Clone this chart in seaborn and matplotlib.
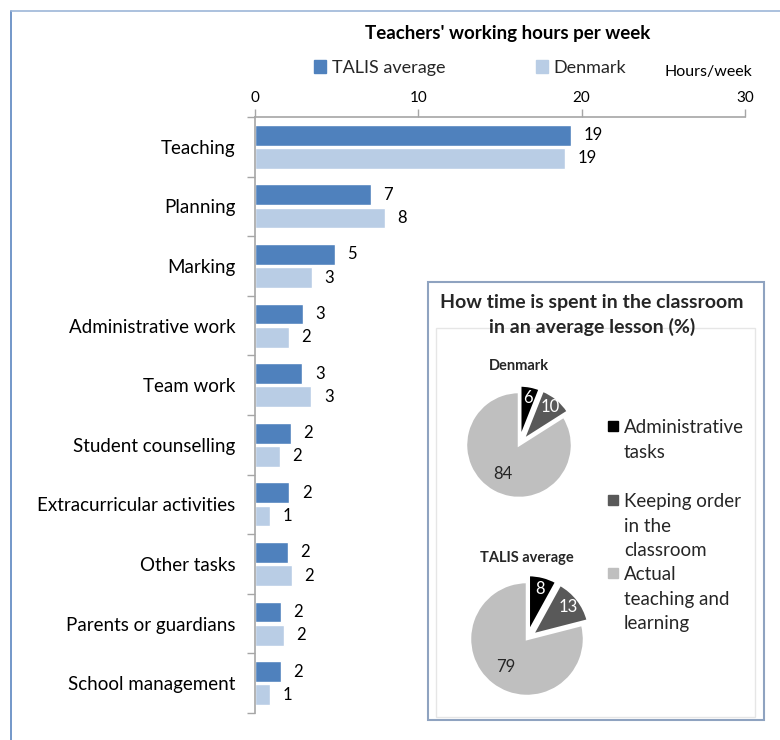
import matplotlib
matplotlib.use("Agg")
import matplotlib.pyplot as plt
import numpy as np
import pandas as pd
import seaborn as sns
from matplotlib.patches import Rectangle
from matplotlib.lines import Line2D

CATEGORIES = [
    "Teaching", "Planning", "Marking", "Administrative work", "Team work",
    "Student counselling", "Extracurricular activities", "Other tasks",
    "Parents or guardians", "School management",
]
TALIS_HOURS = [19.35, 7.08, 4.9, 2.92, 2.9, 2.2, 2.1, 2.0, 1.6, 1.57]
DENMARK_HOURS = [18.98, 7.96, 3.49, 2.06, 3.45, 1.52, 0.92, 2.27, 1.78, 0.93]
SERIES = ["TALIS average", "Denmark"]
BAR_COLORS = ["#4F81BD", "#B9CDE5"]

PIE_LABELS = ["Administrative\ntasks", "Keeping order\nin the\nclassroom", "Actual\nteaching and\nlearning"]
PIE_DENMARK = [6, 10, 84]
PIE_TALIS = [8, 13, 79]
PIE_COLORS = ["#000000", "#595959", "#BFBFBF"]
PIE_TEXT_COLORS = ["white", "white", "#262626"]

FONT = ["Lato", "DejaVu Sans"]

sns.set_theme(style="white")
plt.rcParams["font.family"] = FONT

W, H = 780, 740
fig = plt.figure(figsize=(W / 100, H / 100), dpi=100)


def px(x0, y0, x1, y1):
    # pixel box (top-left origin) -> figure fraction rect
    return [x0 / W, 1 - y1 / H, (x1 - x0) / W, (y1 - y0) / H]


# outer frame (left and top edges only are visible)
fig.add_artist(Line2D([11 / W, 11 / W], [0, 1 - 11 / H], transform=fig.transFigure,
                      color="#5B85C0", lw=1.2))
fig.add_artist(Line2D([11 / W, 1], [1 - 11 / H, 1 - 11 / H], transform=fig.transFigure,
                      color="#9DB6D8", lw=1.2))

# ---- bar chart ----
df = pd.DataFrame({
    "category": CATEGORIES * 2,
    "series": [SERIES[0]] * len(CATEGORIES) + [SERIES[1]] * len(CATEGORIES),
    "hours": TALIS_HOURS + DENMARK_HOURS,
})

ax = fig.add_axes(px(255, 117, 745, 713))
sns.barplot(data=df, y="category", x="hours", hue="series", hue_order=SERIES,
            palette=BAR_COLORS, orient="h", width=0.78, gap=0.1, ax=ax,
            legend=False, saturation=1)
ax.set_xlim(0, 30)
ax.set_ylim(len(CATEGORIES) - 0.5, -0.5)
ax.xaxis.tick_top()
ax.set_xticks([0, 10, 20, 30])
ax.tick_params(axis="x", which="major", length=6, width=1, color="#A6A6A6",
               labelsize=11, pad=3, top=True, bottom=False, labelcolor="#000000")
ax.set_yticks(range(len(CATEGORIES)))
ax.set_yticklabels(CATEGORIES)
ax.tick_params(axis="y", which="major", length=0, pad=14, labelsize=13.5, labelcolor="#000000")
ax.set_yticks(np.arange(-0.5, len(CATEGORIES) + 0.5, 1), minor=True)
ax.tick_params(axis="y", which="minor", length=6, width=1, color="#A6A6A6", left=True)
ax.set_xlabel("")
ax.set_ylabel("")
for side in ["right", "bottom"]:
    ax.spines[side].set_visible(False)
for side in ["top", "left"]:
    ax.spines[side].set_color("#A6A6A6")
    ax.spines[side].set_linewidth(1.2)

for cont in ax.containers:
    ax.bar_label(cont, labels=[f"{v:.0f}" for v in cont.datavalues], padding=9,
                 fontsize=12, color="#000000")

# title, legend, unit
fig.text(508 / W, 1 - 33 / H, "Teachers' working hours per week", ha="center",
         va="center", fontsize=13.5, fontweight="bold", color="#000000")
handles = [Rectangle((0, 0), 1, 1, color=c) for c in BAR_COLORS]
fig.legend(handles, SERIES, loc="center", bbox_to_anchor=(470 / W, 1 - 68 / H),
           ncol=2, frameon=False, fontsize=13, handlelength=0.7, handleheight=0.7,
           handletextpad=0.3, columnspacing=5.0)
fig.text(708 / W, 1 - 72 / H, "Hours/week", ha="center", va="center", fontsize=11.5,
         color="#000000")

# ---- inset with pies ----
fig.add_artist(Rectangle((428 / W, 1 - 720 / H), (764 - 428) / W, (720 - 282) / H,
                         transform=fig.transFigure, facecolor="white",
                         edgecolor="#8FA3C0", lw=1.5, zorder=2))
fig.add_artist(Rectangle((436 / W, 1 - 717 / H), (755 - 436) / W, (717 - 328) / H,
                         transform=fig.transFigure, facecolor="none",
                         edgecolor="#E6E6E6", lw=1, zorder=2))
fig.text(592 / W, 1 - 302 / H, "How time is spent in the classroom", ha="center",
         va="center", fontsize=14, fontweight="bold", zorder=3)
fig.text(592 / W, 1 - 327 / H, "in an average lesson (%)", ha="center",
         va="center", fontsize=14, fontweight="bold", zorder=3)


def draw_pie(cx, cy, r, values, title, title_y):
    size = 2 * r * 1.25
    pax = fig.add_axes(px(cx - size / 2, cy - size / 2, cx + size / 2, cy + size / 2),
                       zorder=4)
    wedges, _ = pax.pie(values, colors=PIE_COLORS, startangle=90, counterclock=False,
                        explode=[0.1, 0.1, 0], radius=1 / 1.25,
                        wedgeprops=dict(edgecolor="white", linewidth=1.8))
    for w, v, c, d in zip(wedges, values, PIE_TEXT_COLORS, [0.78, 0.8, 0.62]):
        ang = np.deg2rad((w.theta1 + w.theta2) / 2)
        x = w.center[0] + d * w.r * np.cos(ang)
        y = w.center[1] + d * w.r * np.sin(ang)
        pax.text(x, y, str(v), ha="center", va="center", color=c, fontsize=12)
    pax.set_xlim(-1, 1)
    pax.set_ylim(-1, 1)
    pax.set_aspect("equal")
    pax.axis("off")
    fig.text(cx / W, 1 - title_y / H, title, ha="center", va="center", fontsize=10.5,
             fontweight="bold", zorder=5)


draw_pie(519, 445, 53, PIE_DENMARK, "Denmark", 366)
draw_pie(527, 639, 57, PIE_TALIS, "TALIS average", 558)

leg_y = [426, 500, 573]
for label, color, y in zip(PIE_LABELS, PIE_COLORS, leg_y):
    fig.add_artist(Rectangle((608 / W, 1 - (y + 5) / H), 10 / W, 10 / H,
                             transform=fig.transFigure, color=color, zorder=5))
    fig.text(624 / W, 1 - (y - 7) / H, label, ha="left", va="top", fontsize=13.5,
             linespacing=1.55, zorder=5)

fig.savefig("out.png", dpi=100)
